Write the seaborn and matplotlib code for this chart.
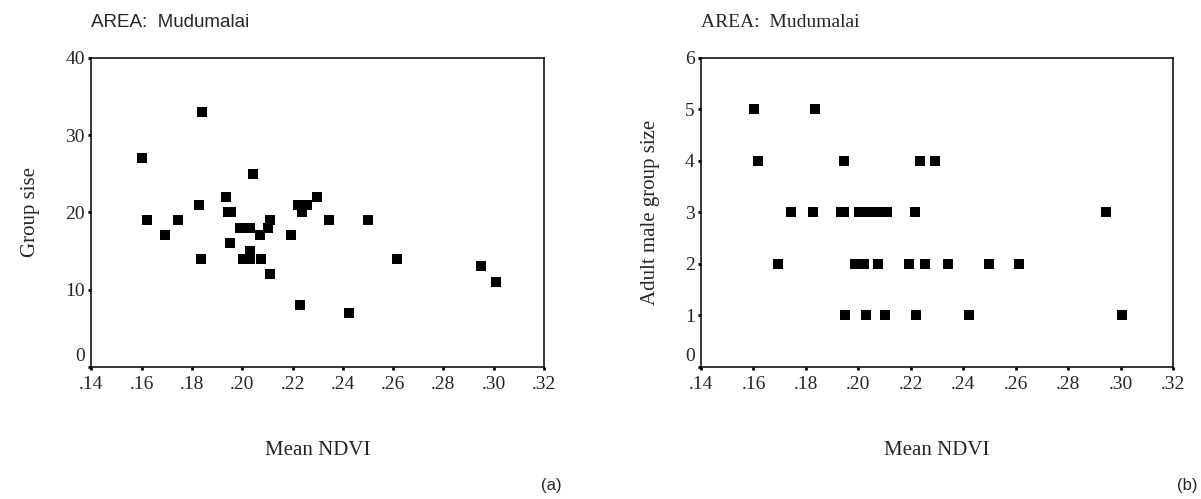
import matplotlib
matplotlib.use("Agg")
import matplotlib.pyplot as plt
import matplotlib.transforms as mtransforms
import seaborn as sns
import pandas as pd

# ---- data ----
ndvi_a = [.1602, .1622, .1692, .1745, .1830, .1841, .1836, .1934, .1943, .1957,
          .1950, .1990, .2003, .2030, .2030, .2030, .2044, .2069, .2075, .2104,
          .2109, .2109, .2194, .2220, .2228, .2238, .2258, .2299, .2346, .2423,
          .2502, .2617, .2950, .3010]
group_size = [27, 19, 17, 19, 21, 33, 14, 22, 20, 20,
              16, 18, 14, 18, 15, 14, 25, 17, 14, 18,
              19, 12, 17, 21, 8, 20, 21, 22, 19, 7,
              19, 14, 13, 11]

ndvi_b = [.1601, .1835,
          .1616, .1944, .2234, .2292,
          .1743, .1828, .1932, .1945, .2001, .2037, .2072, .2108, .2216, .2943,
          .1692, .1987, .2023, .2074, .2192, .2254, .2343, .2497, .2612,
          .1949, .2031, .2102, .2220, .2422, .3007]
male_size = [5, 5,
             4, 4, 4, 4,
             3, 3, 3, 3, 3, 3, 3, 3, 3, 3,
             2, 2, 2, 2, 2, 2, 2, 2, 2,
             1, 1, 1, 1, 1, 1]

x_ticks = [.14, .16, .18, .20, .22, .24, .26, .28, .30, .32]
x_tick_labels = [".14", ".16", ".18", ".20", ".22", ".24", ".26", ".28", ".30", ".32"]
y_ticks_a = [0, 10, 20, 30, 40]
y_ticks_b = [0, 1, 2, 3, 4, 5, 6]

df_a = pd.DataFrame({"ndvi": ndvi_a, "size": group_size})
df_b = pd.DataFrame({"ndvi": ndvi_b, "size": male_size})

sns.set_theme(style="white")
serif = ["Liberation Serif", "DejaVu Serif"]
sans = ["Liberation Sans", "DejaVu Sans"]

fig = plt.figure(figsize=(12.01, 4.99), dpi=100)
ax_a = fig.add_axes([0.076, 0.265, 0.377, 0.619])
ax_b = fig.add_axes([0.5837, 0.265, 0.393, 0.619])

for ax, df, yt, ylab in [(ax_a, df_a, y_ticks_a, "Group sise"),
                         (ax_b, df_b, y_ticks_b, "Adult male group size")]:
    sns.scatterplot(data=df, x="ndvi", y="size", ax=ax, marker="s", s=44,
                    color="black", edgecolor="black", linewidth=0, legend=False)
    ax.set_xlim(.14, .32)
    ax.set_ylim(yt[0], yt[-1])
    ax.set_xticks(x_ticks)
    ax.set_xticklabels(x_tick_labels, family=serif, fontsize=14)
    ax.set_yticks(yt)
    ax.set_yticklabels([str(v) for v in yt], family=serif, fontsize=14)
    ax.tick_params(axis="both", direction="out", length=2.5, width=2,
                   color="black", bottom=True, left=True)
    ax.tick_params(axis="x", pad=4)
    ax.tick_params(axis="y", pad=2)
    # raise the "0" label slightly, as in the reference
    lab0 = ax.get_yticklabels()[0]
    lab0.set_transform(lab0.get_transform() +
                       mtransforms.ScaledTranslation(0, 9 / 72, fig.dpi_scale_trans))
    for sp in ax.spines.values():
        sp.set_color("black")
        sp.set_linewidth(1.1)
    ax.set_xlabel("Mean NDVI", family=serif, fontsize=15, labelpad=35)
    ax.set_ylabel(ylab, family=serif, fontsize=15, labelpad=18)

ax_a.set_title("AREA:  Mudumalai", family=sans, fontsize=13.5, loc="left", pad=22)
ax_b.set_title("AREA:  Mudumalai", family=serif, fontsize=14, loc="left", pad=22)

fig.text(0.468, 0.012, "(a)", family=sans, fontsize=12, ha="right", va="bottom")
fig.text(0.997, 0.012, "(b)", family=sans, fontsize=12, ha="right", va="bottom")

fig.savefig("out.png", dpi=100)
